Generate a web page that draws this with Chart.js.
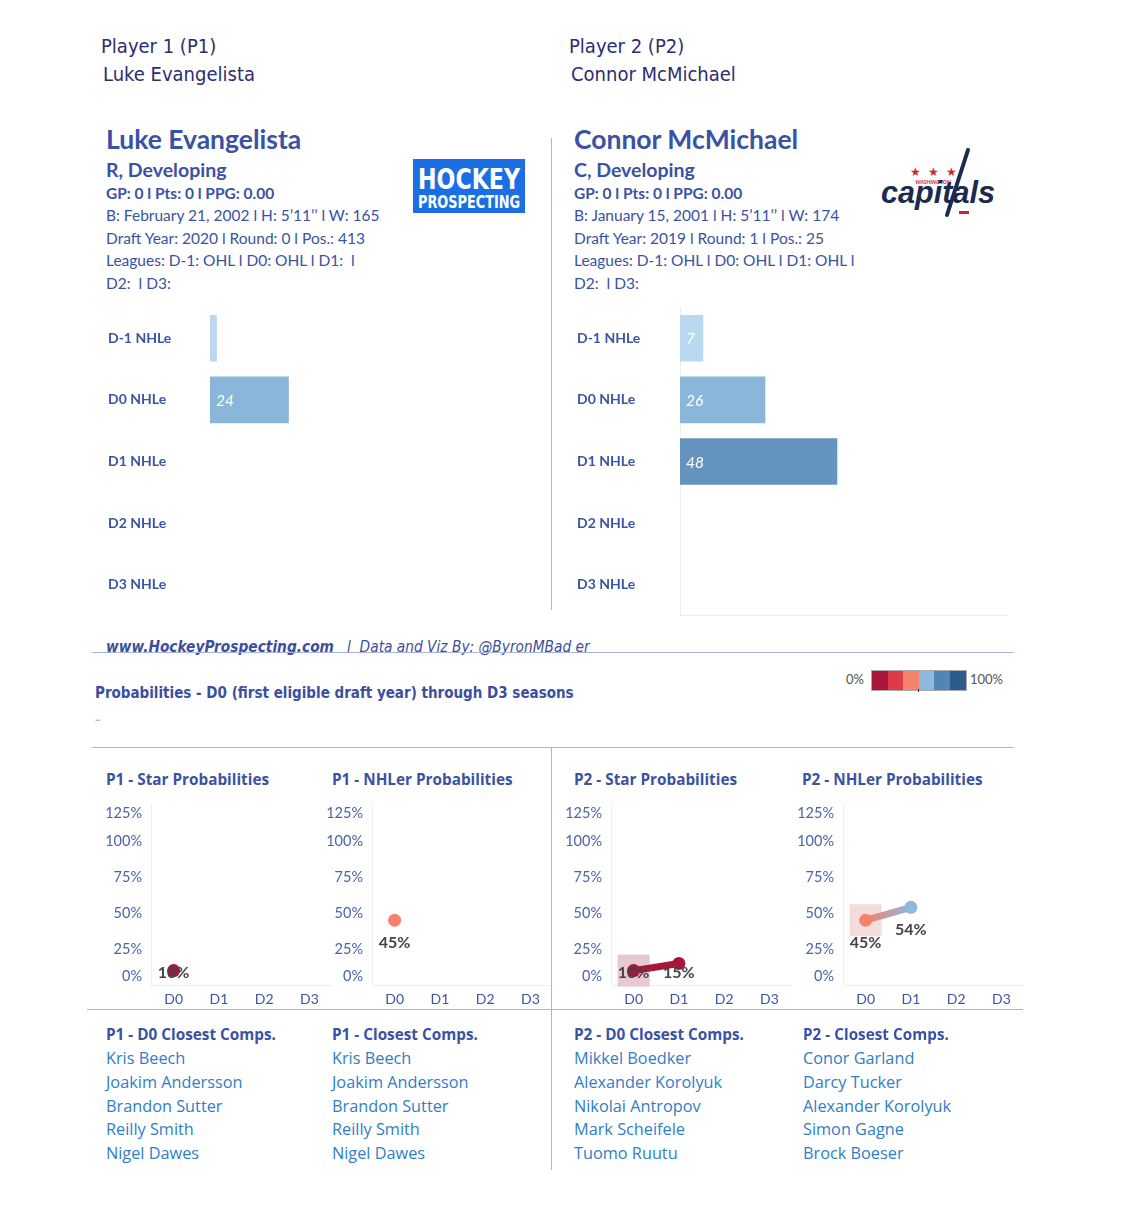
<!DOCTYPE html>
<html>
<head>
<meta charset="utf-8">
<script src="https://cdn.jsdelivr.net/npm/chart.js@4.4.0/dist/chart.umd.min.js"></script>
<style>
  body { margin: 0; background: #fff; font-family: Lato, "Noto Sans", sans-serif; }
  #page { position: relative; width: 1124px; height: 1210px; overflow: hidden; }
  .t { position: absolute; white-space: nowrap; line-height: 1; }
  .narrow { font-family: "Liberation Sans Narrow", "DejaVu Sans Condensed", sans-serif; }
  .hdr { font-size: 20px; color: #2e2d6e; }
  .card { color: #3a52a3; }
  .name { font-size: 26.5px; font-weight: bold; }
  .pos { font-size: 19.5px; font-weight: bold; }
  .info { font-size: 15.5px; }
  .ttl { font-family: "Open Sans", Lato, sans-serif; font-size: 15.3px; font-weight: bold; color: #3a52a3; }
  .comp { font-family: "Open Sans", Lato, sans-serif; font-size: 16.3px; color: #2f7ec6; }
  .hline { position: absolute; height: 1px; background: #aab4de; }
  .vline { position: absolute; width: 1px; background: #aab4de; }
  canvas { position: absolute; }
  .sw { display: inline-block; width: 15.6px; height: 19px; }
</style>
</head>
<body>
<div id="page">
  <div class="t narrow hdr" style="left:101px;top:36px">Player 1 (P1)</div>
  <div class="t narrow hdr" style="left:103px;top:64px">Luke Evangelista</div>
  <div class="t narrow hdr" style="left:569px;top:36px">Player 2 (P2)</div>
  <div class="t narrow hdr" style="left:571px;top:64px">Connor McMichael</div>

  <!-- player 1 card -->
  <div class="t card name" style="left:106px;top:126px">Luke Evangelista</div>
  <div class="t card pos" style="left:106px;top:160px">R, Developing</div>
  <div class="t card info" style="left:106px;top:186px;font-weight:bold">GP: 0 l Pts: 0 l PPG: 0.00</div>
  <div class="t card info" style="left:106px;top:208px">B: February 21, 2002 l H: 5’11’’ l W: 165</div>
  <div class="t card info" style="left:106px;top:231px">Draft Year: 2020 l Round: 0 l Pos.: 413</div>
  <div class="t card info" style="left:106px;top:253px">Leagues: D-1: OHL l D0: OHL l D1:&nbsp; l</div>
  <div class="t card info" style="left:106px;top:276px">D2: &nbsp;l D3:</div>
  <svg style="position:absolute;left:413px;top:159px" width="112" height="54">
    <rect width="112" height="54" fill="#1b6fe3"/>
    <text x="56" y="30" fill="#fff" text-anchor="middle" font-family="Liberation Sans Narrow, DejaVu Sans Condensed" font-weight="bold" font-size="29" textLength="102" lengthAdjust="spacingAndGlyphs">HOCKEY</text>
    <text x="56" y="49" fill="#fff" text-anchor="middle" font-family="Liberation Sans Narrow, DejaVu Sans Condensed" font-weight="bold" font-size="18" textLength="102" lengthAdjust="spacingAndGlyphs">PROSPECTING</text>
  </svg>

  <!-- player 2 card -->
  <div class="t card name" style="left:574px;top:126px">Connor McMichael</div>
  <div class="t card pos" style="left:574px;top:160px">C, Developing</div>
  <div class="t card info" style="left:574px;top:186px;font-weight:bold">GP: 0 l Pts: 0 l PPG: 0.00</div>
  <div class="t card info" style="left:574px;top:208px">B: January 15, 2001 l H: 5’11’’ l W: 174</div>
  <div class="t card info" style="left:574px;top:231px">Draft Year: 2019 l Round: 1 l Pos.: 25</div>
  <div class="t card info" style="left:574px;top:253px">Leagues: D-1: OHL l D0: OHL l D1: OHL l</div>
  <div class="t card info" style="left:574px;top:276px">D2: &nbsp;l D3:</div>
  <svg style="position:absolute;left:875px;top:145px" width="130" height="80">
    <text x="40" y="31" fill="#d3213a" font-size="12" text-anchor="middle">★</text>
    <text x="58" y="31" fill="#d3213a" font-size="12" text-anchor="middle">★</text>
    <text x="76" y="31" fill="#d3213a" font-size="12" text-anchor="middle">★</text>
    <text x="58" y="39" fill="#d3213a" font-size="5.5" font-weight="bold" font-style="italic" text-anchor="middle">WASHINGTON</text>
    <line x1="93" y1="5" x2="72" y2="70" stroke="#1b2a4e" stroke-width="4" stroke-linecap="round"/>
    <text x="63" y="58" fill="#1b2a4e" font-size="31" font-weight="bold" font-style="italic" text-anchor="middle" textLength="114" lengthAdjust="spacingAndGlyphs" font-family="Liberation Sans">capitals</text>
    <rect x="84" y="66" width="10" height="3" fill="#d3213a"/>
  </svg>

  <div class="vline" style="left:551px;top:138px;height:472px"></div>
  <canvas id="nhle1" width="437" height="325" style="left:100px;top:299px"></canvas>
  <canvas id="nhle2" width="438" height="325" style="left:569px;top:299px"></canvas>

  <div class="t narrow" style="left:106px;top:640px;font-size:15.3px;font-style:italic;color:#3b4f9c"><b>www.HockeyProspecting.com</b> &nbsp; l &nbsp;Data and Viz By: @ByronMBad er</div>
  <div class="hline" style="left:92px;top:652px;width:922px"></div>
  <div class="t narrow" style="left:95px;top:686px;font-size:15px;font-weight:bold;color:#3a4fa0">Probabilities - D0 (first eligible draft year) through D3 seasons</div>
  <div class="t" style="left:95px;top:711px;font-size:11px;color:#888">..</div>

  <div class="t" style="left:846px;top:673px;font-size:13px;color:#555">0%</div>
  <div id="scale" style="position:absolute;left:871px;top:670px;height:19px;border:1px solid #aaa;font-size:0"></div>
  <div style="position:absolute;left:918px;top:689px;width:1px;height:3px;background:#333"></div>
  <div class="t" style="left:970px;top:673px;font-size:13px;color:#555">100%</div>
  <div class="hline" style="left:92px;top:747px;width:922px"></div>

  <div class="t ttl" style="left:106px;top:772px">P1 - Star Probabilities</div>
  <div class="t ttl" style="left:332px;top:772px">P1 - NHLer Probabilities</div>
  <div class="t ttl" style="left:574px;top:772px">P2 - Star Probabilities</div>
  <div class="t ttl" style="left:802px;top:772px">P2 - NHLer Probabilities</div>
  <canvas id="prob1" width="237" height="225" style="left:95px;top:785px"></canvas>
  <canvas id="prob2" width="237" height="225" style="left:316px;top:785px"></canvas>
  <canvas id="prob3" width="237" height="225" style="left:555px;top:785px"></canvas>
  <canvas id="prob4" width="237" height="225" style="left:787px;top:785px"></canvas>
  <div class="vline" style="left:551px;top:748px;height:422px"></div>
  <div class="hline" style="left:87px;top:1009px;width:936px"></div>
</div>

<script>
// NHLe bars
const nhleCats = ['D-1 NHLe', 'D0 NHLe', 'D1 NHLe', 'D2 NHLe', 'D3 NHLe'];
const p1Nhle = [2, 24, null, null, null];
const p2Nhle = [7, 26, 48, null, null];
const nhleColors = ['#bad8ef', '#8ab7d9', '#6494bd', '#44739f', '#2d5b8b'];

// probabilities (%)
const seasons = ['D0', 'D1', 'D2', 'D3'];
const probTicks = [0, 25, 50, 75, 100, 125];
const p1Star = [10, null, null, null];
const p1Nhler = [45, null, null, null];
const p2Star = [10, 15, null, null];
const p2Nhler = [45, 54, null, null];
const palette = ['#a8173a', '#df3a47', '#f4826c', '#8cb9dc', '#5085b5', '#2d5b8b'];

// comps
const compTitles = ['P1 - D0 Closest Comps.', 'P1 - Closest Comps.', 'P2 - D0 Closest Comps.', 'P2 - Closest Comps.'];
const p1D0Comps = ['Kris Beech', 'Joakim Andersson', 'Brandon Sutter', 'Reilly Smith', 'Nigel Dawes'];
const p1Comps = ['Kris Beech', 'Joakim Andersson', 'Brandon Sutter', 'Reilly Smith', 'Nigel Dawes'];
const p2D0Comps = ['Mikkel Boedker', 'Alexander Korolyuk', 'Nikolai Antropov', 'Mark Scheifele', 'Tuomo Ruutu'];
const p2Comps = ['Conor Garland', 'Darcy Tucker', 'Alexander Korolyuk', 'Simon Gagne', 'Brock Boeser'];

Chart.defaults.font.family = 'Lato, "Noto Sans", sans-serif';

// legend swatches
const scaleBox = document.getElementById('scale');
palette.forEach(c => {
  const s = document.createElement('span');
  s.className = 'sw';
  s.style.background = c;
  scaleBox.appendChild(s);
});

// comps columns
const page = document.getElementById('page');
const compCols = [[106, p1D0Comps], [332, p1Comps], [574, p2D0Comps], [803, p2Comps]];
compCols.forEach(([x, names], i) => {
  const h = document.createElement('div');
  h.className = 't ttl';
  h.style.left = x + 'px';
  h.style.top = '1027px';
  h.textContent = compTitles[i];
  page.appendChild(h);
  names.forEach((n, j) => {
    const d = document.createElement('div');
    d.className = 't comp';
    d.style.left = x + 'px';
    d.style.top = (1050 + j * 23.8) + 'px';
    d.textContent = n;
    page.appendChild(d);
  });
});

const barLabels = {
  id: 'barLabels',
  afterDatasetsDraw(chart) {
    const ctx = chart.ctx;
    const meta = chart.getDatasetMeta(0);
    ctx.save();
    ctx.font = 'italic 15.5px Lato, "Noto Sans", sans-serif';
    ctx.fillStyle = '#fff';
    ctx.textBaseline = 'middle';
    meta.data.forEach((bar, i) => {
      const v = chart.data.datasets[0].data[i];
      if (v == null || bar.x - bar.base < 15) return;
      ctx.fillText(v, bar.base + 6, bar.y + 1);
    });
    ctx.restore();
  }
};

function nhleChart(id, values, yWidth, showAxis) {
  return new Chart(document.getElementById(id), {
    type: 'bar',
    data: { labels: nhleCats, datasets: [{ data: values, backgroundColor: nhleColors, barThickness: 46 }] },
    options: {
      indexAxis: 'y', responsive: false, animation: false,
      layout: { padding: { left: 8, top: 0, bottom: 0, right: 0 } },
      plugins: { legend: { display: false }, tooltip: { enabled: false } },
      scales: {
        x: { min: 0, max: 100, display: showAxis, ticks: { display: false }, grid: { display: false, drawTicks: false }, border: { color: '#ececec' } },
        y: {
          afterFit: s => { s.width = yWidth; },
          grid: { display: false, drawTicks: false },
          border: { display: showAxis, color: '#ececec' },
          ticks: { crossAlign: 'far', color: '#3a55a4', font: { size: 14, weight: 'bold' }, padding: 0 }
        }
      }
    },
    plugins: [barLabels]
  });
}

nhleChart('nhle1', p1Nhle, 102, false);
nhleChart('nhle2', p2Nhle, 103, true);

function probColor(v) {
  if (v == null) return 'rgba(0,0,0,0)';
  return palette[Math.min(5, Math.floor(v / 100 * 6))];
}

const probExtras = {
  id: 'probExtras',
  beforeDatasetsDraw(chart, args, opts) {
    if (!opts.box) return;
    const p = chart.getDatasetMeta(0).data[0];
    const ctx = chart.ctx;
    ctx.save();
    ctx.fillStyle = opts.box;
    ctx.fillRect(p.x - 16, p.y - 16, 32, 32);
    ctx.restore();
  },
  afterDatasetsDraw(chart) {
    const ctx = chart.ctx;
    const data = chart.data.datasets[0].data;
    const area = chart.chartArea;
    ctx.save();
    // y tick labels, kept inside the pane like the original
    const y = chart.scales.y;
    ctx.font = '14.5px Lato, "Noto Sans", sans-serif';
    ctx.fillStyle = '#4a63ae';
    ctx.textAlign = 'right';
    ctx.textBaseline = 'middle';
    probTicks.forEach(v => {
      const py = Math.min(Math.max(y.getPixelForValue(v), area.top + 10), area.bottom - 9);
      ctx.fillText(v + '%', area.left - 9, py);
    });
    // value labels
    ctx.font = 'bold 16px Lato, "Noto Sans", sans-serif';
    ctx.fillStyle = '#444';
    ctx.textAlign = 'center';
    chart.getDatasetMeta(0).data.forEach((p, i) => {
      if (data[i] == null) return;
      ctx.fillText(data[i] + '%', p.x, Math.min(p.y + 23, area.bottom - 12));
    });
    ctx.restore();
  }
};

function probChart(id, values, box) {
  return new Chart(document.getElementById(id), {
    type: 'line',
    data: {
      labels: seasons,
      datasets: [{
        data: values,
        borderWidth: 7,
        borderCapStyle: 'round',
        borderColor: probColor(values[0]),
        segment: {
          borderColor: c => {
            const g = c.chart.ctx.createLinearGradient(c.p0.x, c.p0.y, c.p1.x, c.p1.y);
            g.addColorStop(0, probColor(values[c.p0DataIndex]));
            g.addColorStop(1, probColor(values[c.p1DataIndex]));
            return g;
          }
        },
        pointRadius: 6.5,
        pointHoverRadius: 6.5,
        pointBorderWidth: 0,
        pointBackgroundColor: values.map(probColor)
      }]
    },
    options: {
      responsive: false, animation: false,
      layout: { autoPadding: false, padding: { top: 18, left: 0, right: 0, bottom: 0 } },
      plugins: { legend: { display: false }, tooltip: { enabled: false }, probExtras: { box } },
      scales: {
        x: {
          offset: true,
          afterFit: s => { s.height = 25; s.paddingLeft = 0; s.paddingRight = 0; },
          grid: { display: false, drawTicks: false },
          border: { color: '#eeeeee' },
          ticks: { color: '#3a55a4', font: { size: 14 }, padding: 6 }
        },
        y: {
          min: 0, max: 126.5,
          afterFit: s => { s.width = 56; },
          afterBuildTicks: s => { s.ticks = probTicks.map(v => ({ value: v })); },
          grid: { display: false, drawTicks: false },
          border: { color: '#eeeeee' },
          ticks: { display: false }
        }
      }
    },
    plugins: [probExtras]
  });
}

probChart('prob1', p1Star, null);
probChart('prob2', p1Nhler, null);
probChart('prob3', p2Star, '#e8c8d1');
probChart('prob4', p2Nhler, '#f5dcdc');
</script>
</body>
</html>
